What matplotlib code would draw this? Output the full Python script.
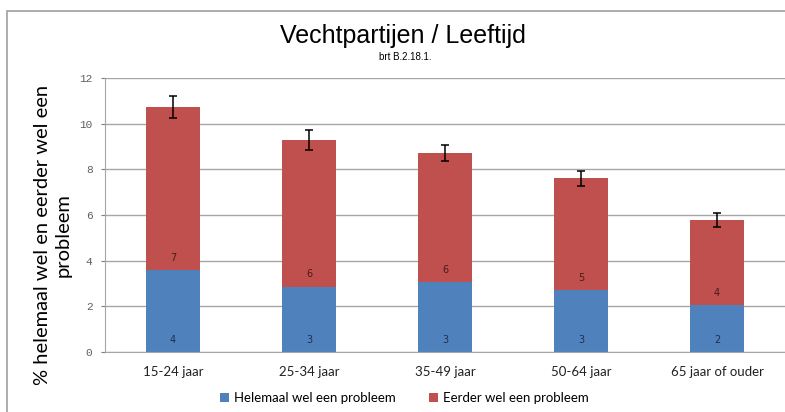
import numpy as np
import matplotlib
matplotlib.use("Agg")
import matplotlib.pyplot as plt
from matplotlib.patches import Rectangle

# values
categories = ['15-24 jaar', '25-34 jaar', '35-49 jaar', '50-64 jaar', '65 jaar of ouder']
helemaal = [3.59, 2.86, 3.07, 2.71, 2.06]
eerder = [7.14, 6.41, 5.65, 4.90, 3.71]
err_total = [0.49, 0.44, 0.34, 0.33, 0.31]
labels_helemaal = ['4', '3', '3', '3', '2']
labels_eerder = ['7', '6', '6', '5', '4']

blue = '#4F81BD'
red = '#C0504D'
grid_col = '#A6A6A6'

fig = plt.figure(figsize=(7.85, 4.12), dpi=100)
ax = fig.add_axes([105 / 785, 1 - 352 / 412, 680 / 785, (352 - 78) / 412])

x = np.arange(len(categories))
width = 0.39
b1 = ax.bar(x, helemaal, width, color=blue, label='Helemaal wel een probleem', zorder=2)
totals = np.array(helemaal) + np.array(eerder)
b2 = ax.bar(x, eerder, width, bottom=helemaal, color=red,
            label='Eerder wel een probleem', zorder=2)
ax.errorbar(x, totals, yerr=err_total, fmt='none', ecolor='black',
            elinewidth=1.1, capsize=3, capthick=1.1, zorder=3)

# data labels (inside base)
for i in range(len(x)):
    ax.text(x[i], 0.32, labels_helemaal[i], ha='center', va='bottom',
            fontsize=7, color='#1F2F4F', zorder=4)
    ax.text(x[i], helemaal[i] + 0.32, labels_eerder[i], ha='center', va='bottom',
            fontsize=7, color='#4A1A19', zorder=4)

ax.set_xlim(-0.5, len(categories) - 0.5)
ax.set_ylim(0, 12)
ax.set_yticks(range(0, 13, 2))
ax.yaxis.grid(True, color=grid_col, linewidth=1.0, zorder=0)
ax.set_axisbelow(True)
ax.tick_params(axis='y', labelsize=8, colors='#7F7F7F', length=3, width=0.8,
               labelcolor='#5F5F5F', pad=6)
ax.tick_params(axis='x', length=0, pad=10)
ax.set_xticks(x)
ax.set_xticklabels(categories, fontsize=9.5, family='Lato', color='#222222')
for lab in ax.get_yticklabels():
    lab.set_family('Liberation Mono')
ax.spines['top'].set_visible(False)
ax.spines['right'].set_visible(False)
ax.spines['left'].set_color(grid_col)
ax.spines['bottom'].set_color(grid_col)

fig.text(53 / 785, 1 - 235 / 412, '% helemaal wel en eerder wel een\nprobleem',
         rotation=90, ha='center', va='center', multialignment='center',
         fontsize=14.5, family='Lato', linespacing=1.3)

fig.text(0.513, 1 - 36 / 412, 'Vechtpartijen / Leeftijd', ha='center', va='center',
         fontsize=18, family='Liberation Sans')
fig.text(0.516, 1 - 57 / 412, 'brt B.2.18.1.', ha='center', va='center',
         fontsize=7, family='Liberation Sans')

fig.legend(handles=[b1, b2], loc='center', bbox_to_anchor=(0.515, 1 - 398 / 412),
           ncol=2, frameon=False, prop={'family': 'Lato', 'size': 9.5},
           handlelength=0.7, handleheight=0.7, handletextpad=0.4, columnspacing=2.5)

# outer chart border
fig.patches.append(Rectangle((7 / 785, -0.05), 1.0, 1 - 11 / 412 + 0.05,
                             transform=fig.transFigure, fill=False,
                             edgecolor='#A0A0A0', linewidth=1.2))

fig.savefig('out.png', dpi=100)
